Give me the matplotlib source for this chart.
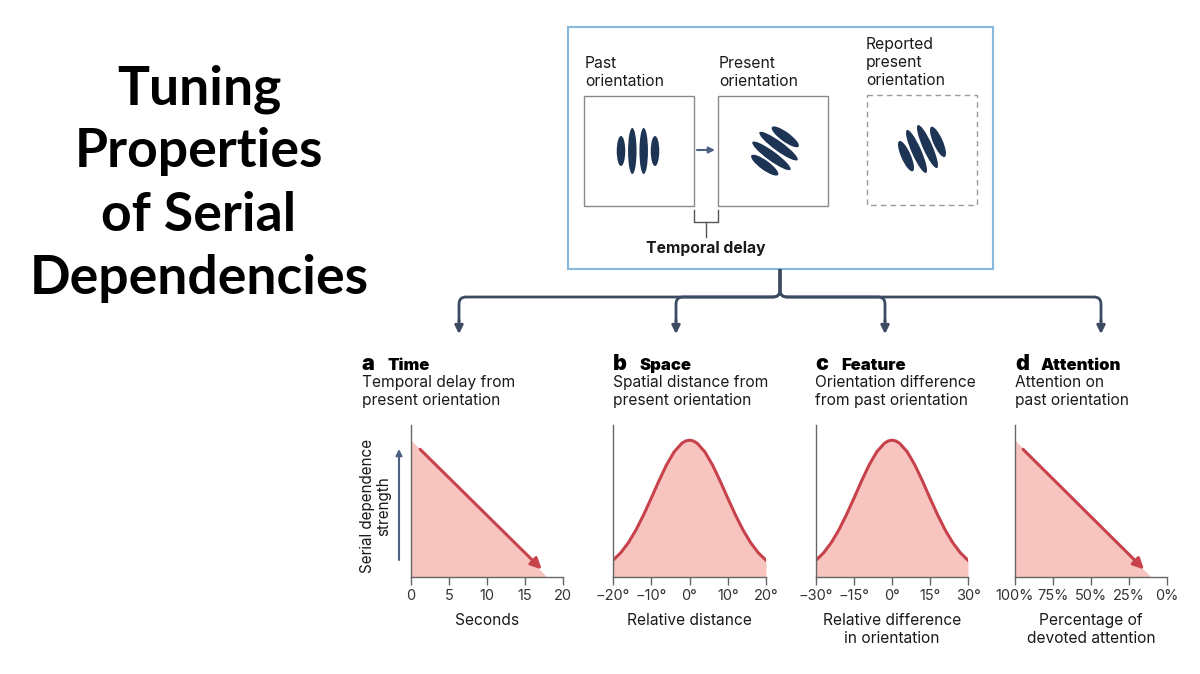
import matplotlib.pyplot as plt
from matplotlib.patches import Rectangle, Ellipse, PathPatch
from matplotlib.path import Path
import numpy as np

# ---- data ----
time_x = [0, 17.9]
time_y = [0.90, 0.0]
time_arrow = [(1.2, 0.84), (17.2, 0.05)]
time_ticks = [0, 5, 10, 15, 20]

space_x = [-20, -18, -16, -14, -12, -10, -8, -6, -4, -2, -1, 0,
           1, 2, 4, 6, 8, 10, 12, 14, 16, 18, 20]
space_y = [0.110, 0.159, 0.225, 0.309, 0.409, 0.519, 0.632, 0.738, 0.824, 0.880, 0.895, 0.900,
           0.895, 0.880, 0.824, 0.738, 0.632, 0.519, 0.409, 0.309, 0.225, 0.159, 0.110]
space_ticks = [-20, -10, 0, 10, 20]

feature_x = [-30, -27, -24, -21, -18, -15, -12, -9, -6, -3, -1.5, 0,
             1.5, 3, 6, 9, 12, 15, 18, 21, 24, 27, 30]
feature_y = [0.110, 0.159, 0.225, 0.309, 0.409, 0.519, 0.632, 0.738, 0.824, 0.880, 0.895, 0.900,
             0.895, 0.880, 0.824, 0.738, 0.632, 0.519, 0.409, 0.309, 0.225, 0.159, 0.110]
feature_ticks = [-30, -15, 0, 15, 30]

attn_x = [100, 10.5]
attn_y = [0.90, 0.0]
attn_arrow = [(94.7, 0.84), (15.1, 0.05)]
attn_ticks = [100, 75, 50, 25, 0]

# gabor-like patches: (centre, angle, offsets, lengths, thickness)
past_patch = ((638, 151), 90, [-17, -5.7, 5.7, 17], [30, 46, 46, 30], 8.5)
present_patch = ((775, 151), 36, [-17.5, -6, 6, 17.5], [33, 47, 47, 33], 9.5)
reported_patch = ((922, 149), 66, [-17.5, -6, 6, 17.5], [33, 47, 47, 33], 9.5)

# ---- style ----
PINK = "#f7c4bf"
RED = "#c8424b"
NAVY = "#1d3454"
TREE = "#3c4a62"
GREY = "#666666"
TXT = "#1a1a1a"
FONT = ["Inter", "DejaVu Sans"]

plt.rcParams["font.family"] = FONT

W, H = 1200, 674
fig = plt.figure(figsize=(12, 6.74), dpi=100)
ov = fig.add_axes([0, 0, 1, 1])
ov.set_xlim(0, W)
ov.set_ylim(H, 0)
ov.axis("off")

# big title
for line, yb in zip(["Tuning", "Properties", "of Serial", "Dependencies"], [104, 167, 231, 294]):
    ov.text(199, yb, line, ha="center", va="baseline", fontsize=38.5,
            fontweight="bold", family=["Lato", "DejaVu Sans"], color="black")

# top diagram
ov.add_patch(Rectangle((568, 27), 425, 242, fill=False, ec="#86b9dd", lw=1.5))
ov.add_patch(Rectangle((584, 96), 110, 110, fill=False, ec="#8a8a8a", lw=1))
ov.add_patch(Rectangle((718, 96), 110, 110, fill=False, ec="#8a8a8a", lw=1))
ov.add_patch(Rectangle((867, 95), 110, 110, fill=False, ec="#9a9a9a", lw=1, ls=(0, (4, 3))))

ov.text(585, 56, "Past\norientation", ha="left", va="top", fontsize=11.3, color=TXT, linespacing=1.25)
ov.text(719, 56, "Present\norientation", ha="left", va="top", fontsize=11.3, color=TXT, linespacing=1.25)
ov.text(866, 37, "Reported\npresent\norientation", ha="left", va="top", fontsize=11.3, color=TXT,
        linespacing=1.25)

for (cx, cy), ang, offs, lens, thick in [past_patch, present_patch, reported_patch]:
    a = np.deg2rad(ang)
    vx, vy = -np.sin(a), np.cos(a)
    for o, L in zip(offs, lens):
        ov.add_patch(Ellipse((cx + o * vx, cy + o * vy), L, thick, angle=ang, color=NAVY, lw=0))

ov.annotate("", xy=(715, 150), xytext=(697, 150),
            arrowprops=dict(arrowstyle="-|>", color="#4d6182", lw=1.5, mutation_scale=9,
                            shrinkA=0, shrinkB=0))

# temporal delay bracket
ov.plot([694, 694, 718, 718], [210, 222, 222, 210], color="#555555", lw=1)
ov.plot([706, 706], [222, 237], color="#555555", lw=1)
ov.text(706, 248, "Temporal delay", ha="center", va="center", fontsize=11.3, fontweight="bold", color=TXT)

# tree connector
r = 7
yh = 297
stem_x = 780
branches = [459, 676, 885, 1101]
for bx in branches:
    s = 1 if bx < stem_x else -1
    verts = [(bx, 322), (bx, yh + r), (bx, yh), (bx + s * r, yh), (stem_x - s * r, yh),
             (stem_x, yh), (stem_x, yh - r), (stem_x, 269)]
    codes = [Path.MOVETO, Path.LINETO, Path.CURVE3, Path.CURVE3, Path.LINETO,
             Path.CURVE3, Path.CURVE3, Path.LINETO]
    ov.add_patch(PathPatch(Path(verts, codes), fill=False, ec=TREE, lw=2, capstyle="butt"))
    ov.annotate("", xy=(bx, 334), xytext=(bx, 320),
                arrowprops=dict(arrowstyle="-|>", color=TREE, lw=2, mutation_scale=12,
                                shrinkA=0, shrinkB=0))

# panel headers
headers = [
    (362, "a", "Time", "Temporal delay from\npresent orientation"),
    (613, "b", "Space", "Spatial distance from\npresent orientation"),
    (815, "c", "Feature", "Orientation difference\nfrom past orientation"),
    (1015, "d", "Attention", "Attention on\npast orientation"),
]
for x0, letter, word, sub in headers:
    ov.text(x0, 370, letter, ha="left", va="baseline", fontsize=15.5, fontweight="black", color="black")
    ov.text(x0 + 26, 370, word, ha="left", va="baseline", fontsize=12, fontweight="black", color="black")
    ov.text(x0, 375, sub, ha="left", va="top", fontsize=11.2, color=TXT, linespacing=1.28)

# y label + arrow for panel a
ov.text(376, 506, "Serial dependence\nstrength", rotation=90, ha="center", va="center",
        fontsize=11, color=TXT, linespacing=1.1)
ov.annotate("", xy=(399, 449), xytext=(399, 560),
            arrowprops=dict(arrowstyle="-|>", color="#4d6182", lw=1.5, mutation_scale=9,
                            shrinkA=0, shrinkB=0))


def panel(x0, width):
    ax = fig.add_axes([x0 / W, (H - 577) / H, width / W, 152 / H])
    ax.set_ylim(0, 1.0)
    for s in ["top", "right"]:
        ax.spines[s].set_visible(False)
    for s in ["left", "bottom"]:
        ax.spines[s].set_color(GREY)
        ax.spines[s].set_linewidth(1)
    ax.set_yticks([])
    ax.tick_params(axis="x", direction="out", length=6, width=1, color=GREY,
                   labelsize=10.5, labelcolor="#333333", pad=3)
    ax.patch.set_alpha(0)
    return ax


# a
ax = panel(411, 152)
ax.set_xlim(0, 20)
ax.fill_between(time_x, time_y, color=PINK, lw=0)
ax.annotate("", xy=time_arrow[1], xytext=time_arrow[0],
            arrowprops=dict(arrowstyle="-|>", color=RED, lw=2.2, mutation_scale=16,
                            shrinkA=0, shrinkB=0))
ax.set_xticks(time_ticks)
ax.set_xticklabels([str(t) for t in time_ticks])
ax.set_xlabel("Seconds", fontsize=11.2, color=TXT, labelpad=7)

# b
ax = panel(613, 153)
ax.set_xlim(-20, 20)
ax.fill_between(space_x, space_y, color=PINK, lw=0)
ax.plot(space_x, space_y, color=RED, lw=2.2)
ax.set_xticks(space_ticks)
ax.set_xticklabels([f"{t}°".replace("-", "\u2212") for t in space_ticks])
ax.set_xlabel("Relative distance", fontsize=11.2, color=TXT, labelpad=7)

# c
ax = panel(816, 152)
ax.set_xlim(-30, 30)
ax.fill_between(feature_x, feature_y, color=PINK, lw=0)
ax.plot(feature_x, feature_y, color=RED, lw=2.2)
ax.set_xticks(feature_ticks)
ax.set_xticklabels([f"{t}°".replace("-", "\u2212") for t in feature_ticks])
ax.set_xlabel("Relative difference\nin orientation", fontsize=11.2, color=TXT, labelpad=7,
              linespacing=1.2)

# d
ax = panel(1015, 152)
ax.set_xlim(100, 0)
ax.fill_between(attn_x, attn_y, color=PINK, lw=0)
ax.annotate("", xy=attn_arrow[1], xytext=attn_arrow[0],
            arrowprops=dict(arrowstyle="-|>", color=RED, lw=2.2, mutation_scale=16,
                            shrinkA=0, shrinkB=0))
ax.set_xticks(attn_ticks)
ax.set_xticklabels([f"{t}%" for t in attn_ticks])
ax.set_xlabel("Percentage of\ndevoted attention", fontsize=11.2, color=TXT, labelpad=7,
              linespacing=1.2)

fig.savefig("out.png", dpi=100, facecolor="white")
